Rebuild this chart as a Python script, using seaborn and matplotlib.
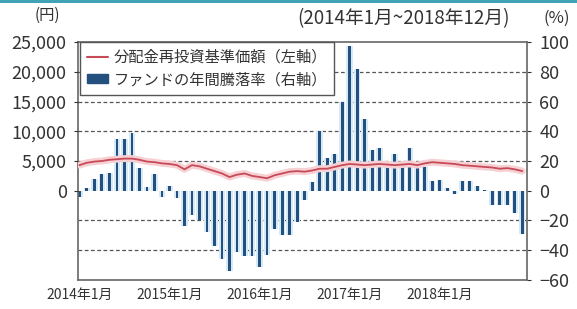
import pandas as pd
import matplotlib
matplotlib.use('Agg')
import matplotlib.pyplot as plt
from matplotlib.lines import Line2D
from matplotlib.patches import Patch, Rectangle
import seaborn as sns

# 2014年1月 ~ 2018年12月 (monthly)
months = [f"{y}-{m:02d}" for y in range(2014, 2019) for m in range(1, 13)]

# 分配金再投資基準価額 (円, 左軸)
nav = [4300, 4700, 4900, 5000, 5200, 5300, 5400, 5400, 5200, 4900,
       4800, 4600, 4500, 4300, 3600, 4300, 4100, 3700, 3300, 2900,
       2300, 2700, 2900, 2500, 2300, 2100, 2600, 2900, 3200, 3300,
       3200, 3400, 3700, 3700, 4000, 4300, 4500, 4400, 4300, 4400,
       4500, 4400, 4300, 4400, 4500, 4300, 4600, 4800, 4700, 4600,
       4500, 4300, 4200, 4100, 4000, 3900, 3700, 3800, 3600, 3300]

# ファンドの年間騰落率 (%, 右軸)
ret = [-4, 2, 8, 11, 12, 35, 35, 39, 15, 2.5,
       11, -4, 3, -5, -24, -16, -19.5, -28, -37, -46,
       -54, -41, -44, -44, -51, -43, -26, -30, -30, -21,
       -6, 6, 40, 22, 24.5, 60, 97, 82, 48, 27.5,
       29, 19.5, 25, 19.5, 28.5, 19.5, 16, 6.7, 7.5, 1.5,
       -2.5, 6.7, 6.5, 3.3, 0.3, -9.5, -9.5, -9.5, -15, -29]

xtick_pos = [0, 12, 24, 36, 48]
xtick_labels = ['2014年1月', '2015年1月', '2016年1月', '2017年1月', '2018年1月']
left_ticks = [0, 5000, 10000, 15000, 20000, 25000]
right_ticks = [-60, -40, -20, 0, 20, 40, 60, 80, 100]
grid_levels = [-40, -20, 20, 40, 60, 80]

df = pd.DataFrame({'month': months, 'idx': range(len(months)), 'nav': nav, 'ret': ret})

sns.set_style('white')
plt.rcParams['font.family'] = ['Noto Sans CJK JP', 'DejaVu Sans']
txt = '#333333'

fig = plt.figure(figsize=(5.77, 3.09), dpi=100)
ax = fig.add_axes([0.135, 0.094, 0.778, 0.770])
ax2 = ax.twinx()

# bars (right axis units) with light blue haze behind
sns.barplot(data=df, x='idx', y='ret', color='#d6e9f7', width=0.85,
            saturation=1, ax=ax, errorbar=None, linewidth=0, edgecolor='none')
sns.barplot(data=df, x='idx', y='ret', color='#23507f', width=0.38,
            saturation=1, ax=ax, errorbar=None, linewidth=0, edgecolor='none')
for lv in grid_levels:
    ax.axhline(lv, color='#555555', lw=0.9, ls=(0, (3, 2)), zorder=0.5)

ax.set_ylim(-60, 100)
ax.set_xlim(-0.2, 59.6)
ax.set_yticks(right_ticks)
ax.set_yticklabels([f"{v:d}".replace('-', '−') for v in right_ticks])
ax.set_xticks(xtick_pos)
ax.set_xticklabels(xtick_labels)
ax.tick_params(axis='x', length=0, pad=6, labelsize=10, colors=txt)
ax.tick_params(axis='y', length=3, pad=6, labelsize=13, colors=txt)
ax.yaxis.tick_right()
ax.set_xlabel('')
ax.set_ylabel('')
for s in ax.spines.values():
    s.set_color('#666666')
    s.set_linewidth(1.2)

# line (left axis units)
sns.lineplot(data=df, x='idx', y='nav', color='#f6d0d3', lw=5, ax=ax2)
sns.lineplot(data=df, x='idx', y='nav', color='#c64a58', lw=1.3, ax=ax2)
ax2.set_ylim(-15000, 25000)
ax2.set_yticks(left_ticks)
ax2.set_yticklabels([f"{v:,}" for v in left_ticks])
ax2.tick_params(axis='y', length=3, pad=5, labelsize=13, colors=txt)
ax2.yaxis.tick_left()
ax2.set_xlabel('')
ax2.set_ylabel('')
for s in ax2.spines.values():
    s.set_visible(False)

handles = [Line2D([], [], color='#c64a58', lw=1.5),
           Patch(facecolor='#23507f', edgecolor='#23507f')]
labels = ['分配金再投資基準価額（左軸）', 'ファンドの年間騰落率（右軸）']
leg = ax2.legend(handles, labels, loc='upper left', bbox_to_anchor=(0.004, 1.0),
                 frameon=True, fancybox=False, framealpha=1, edgecolor='#555555',
                 fontsize=11, handlelength=1.4, handleheight=0.5,
                 borderpad=0.45, labelspacing=0.35, handletextpad=0.4, borderaxespad=0)
leg.get_frame().set_linewidth(1.0)
for t in leg.get_texts():
    t.set_color(txt)

fig.text(0.082, 0.95, '(円)', ha='center', va='center', fontsize=11, color=txt)
fig.text(0.70, 0.94, '(2014年1月~2018年12月)', ha='center', va='center', fontsize=13.5, color=txt)
fig.text(0.965, 0.94, '(%)', ha='center', va='center', fontsize=12, color=txt)
fig.add_artist(Rectangle((0, 1 - 3 / 309), 1, 3 / 309, transform=fig.transFigure,
                         color='#3fa3b5', lw=0))

fig.savefig('out.png', dpi=100)
